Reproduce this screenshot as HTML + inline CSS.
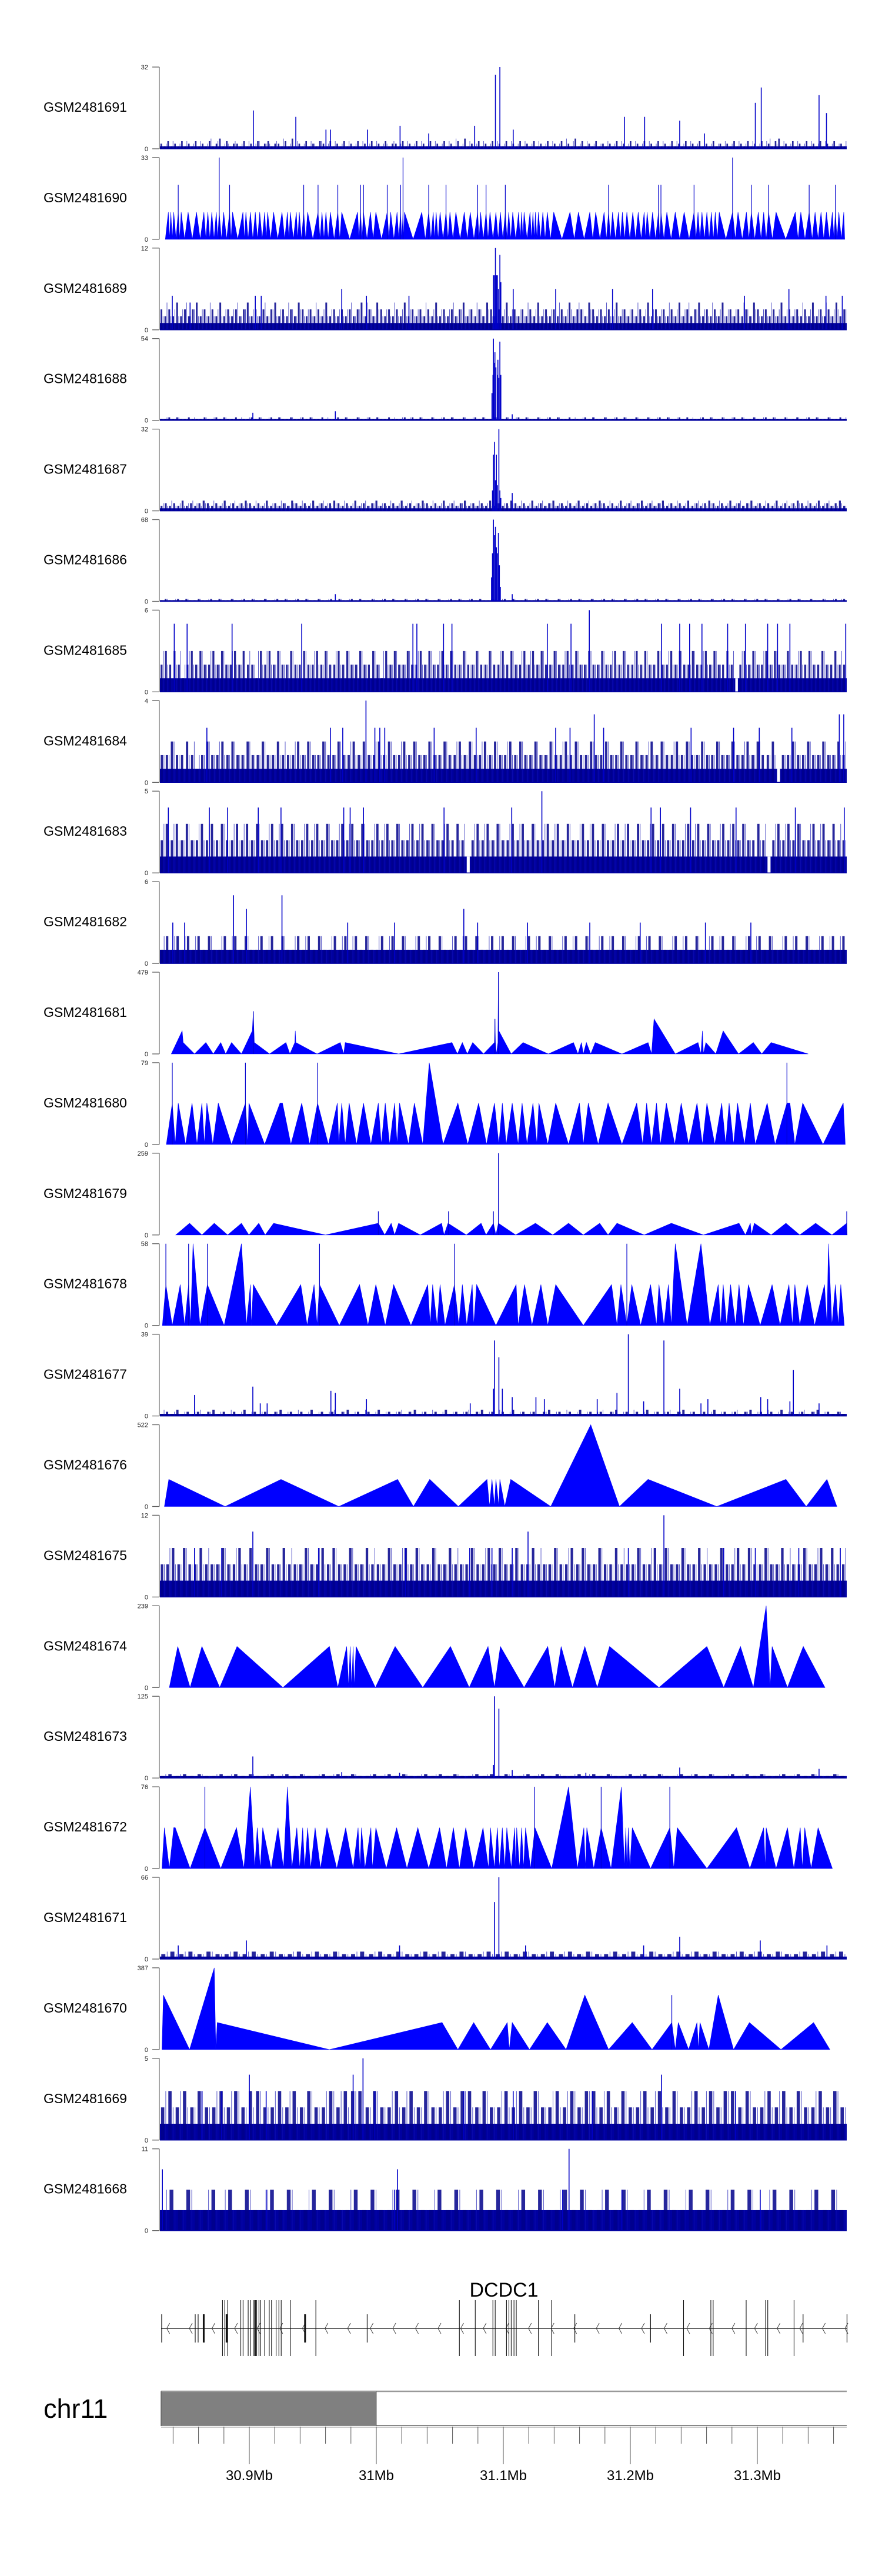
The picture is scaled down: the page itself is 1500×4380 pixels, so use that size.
<!DOCTYPE html>
<html><head><meta charset="utf-8"><title>GSM tracks chr11</title>
<style>
html,body{margin:0;padding:0;background:#fff;}
svg{display:block;font-family:"Liberation Sans",Arial,sans-serif;}
</style></head>
<body>
<svg id="fig" xmlns="http://www.w3.org/2000/svg" width="1500" height="4380" viewBox="0 0 1500 4380">
<rect x="0" y="0" width="1500" height="4380" fill="#fff"/>
<g id="tracks"></g>
<g id="gene"></g>
<g id="ideo"></g>
</svg>
<script>
// ---------- data ----------
const sampleNames = ["GSM2481691","GSM2481690","GSM2481689","GSM2481688","GSM2481687","GSM2481686","GSM2481685","GSM2481684","GSM2481683","GSM2481682","GSM2481681","GSM2481680","GSM2481679","GSM2481678","GSM2481677","GSM2481676","GSM2481675","GSM2481674","GSM2481673","GSM2481672","GSM2481671","GSM2481670","GSM2481669","GSM2481668"];
const sampleMax = [32,33,12,54,32,68,6,4,5,6,479,79,259,58,39,522,12,239,125,76,66,387,5,11];
const trackKind = ["n","p","n","n","n","n","n","n","n","n","t","t","t","t","n","t","n","t","n","t","n","t","n","n"];

// noisy tracks: step (value per digit unit), solid band level (units), noise digits, spikes
const noiseStep = {GSM2481691:1,GSM2481689:1,GSM2481688:1,GSM2481687:1,GSM2481686:1,GSM2481685:1,GSM2481684:0.667,GSM2481683:1,GSM2481682:1,GSM2481677:1,GSM2481675:2.4,GSM2481673:3,GSM2481671:2,GSM2481669:1,GSM2481668:2.75};
const noiseSolid = {GSM2481691:1,GSM2481689:1,GSM2481688:1,GSM2481687:1,GSM2481686:1,GSM2481685:1,GSM2481684:1,GSM2481683:1,GSM2481682:1,GSM2481677:1,GSM2481675:1,GSM2481673:1,GSM2481671:1,GSM2481669:1,GSM2481668:1};
const noiseDigits = {
GSM2481691:"2131213121312131241312213121312312213141213121321312131213121312131221312131213121312131412131213121312131213121312131214131213121213121312131213121312131213121312121312131213121341213121312131213121",
GSM2481689:"3232423234232324232323423232342323243232324232323234232432323242323232423232342323243232423232324232323242332432323242323232423232324232342323242323232432323242323232423232423",
GSM2481688:"1121211211121121211211121211212112112121121112121121121211211121212112112121121121211211211212112112121121112121121121211211211212112121112121121121211211212112112112121121121",
GSM2481687:"2323242323432324232343232423232432324232343232423234232324232343232423234232324232343232423234232324232343232423234232342323242323432324232342323242323432324232342",
GSM2481686:"1211212112112121121121211211212112121121121211212112112121121121211211212112121121121211211212112112121121121211211212112121121121211211212112112121121121211211211212",
GSM2481685:"232321232322323223232213232322322322323223232232232132322322323223232232232232232322323232232232322322322323223232232232322322323223202323223232232232322322322",
GSM2481684:"2232232123223232232232232223232232232232322323223232232232232322323223232232232232322322322322322323223232232232232232322302232232232232",
GSM2481683:"23232322323232232323223232322323232232323223232322323232232320232323223232322323232232323223232322323232232323223232322320232323223232322",
GSM2481682:"12121212121121212112121211212121121212121121212112121211212121121212112121211212121121212112121211212121121212112121211212121121212",
GSM2481677:"1213121212312121312121231212131212123121213121212312121312121231212131212123121213121212312121312121231212131212123121213121212312121",
GSM2481675:"2232322322232232322322322232232322322322232232322322322232232322322322232232322322322232232322322322232232322322322232232322",
GSM2481673:"1212121121212112121211212121121212112121211212121121212112121211212121121212112121211212121121",
GSM2481671:"2323232232323223232322323232232323223232322323232232323223232322323232232323",
GSM2481669:"2323232232323322323232232333232232323223233232232323223232332323223232322323233232232323223232",
GSM2481668:"1212112121211212112121121211212112121121211212112121121211212112121121211212112121"
};
// spikes: positions (region units 85..1475) and values
const spikePos = {
GSM2481691:[274,360,421,430,505,571,629,722,764,773,800,1025,1066,1137,1187,1290,1302,1419,1434],
GSM2481689:[110,146,278,290,453,503,589,800,886,1001,1082,1358,1268,1433,1466,760,762,764,766,768,770,773,775],
GSM2481688:[273,440,798,757,759,760,761,763,765,768,769,771,773,775],
GSM2481687:[758,760,762,764,766,768,771,773,775,798],
GSM2481686:[440,798,756,758,760,762,764,766,768,770,772,774],
GSM2481685:[114,140,231,372,597,605,659,676,869,917,954,1100,1137,1157,1182,1234,1270,1315,1335,1360,1473],
GSM2481684:[502,964,1460,180,430,455,520,530,540,640,725,886,915,983,1160,1246,1298,1364,1469],
GSM2481683:[858,102,185,222,284,330,457,470,497,660,797,1079,1098,1159,1251,1371,1470],
GSM2481682:[234,332,260,700,111,135,465,560,728,829,955,1057,1189,1281],
GSM2481677:[155,273,288,302,431,440,503,713,760,762,771,778,798,846,863,970,1010,1033,1064,1105,1137,1180,1194,1301,1315,1367,1360,1419],
GSM2481675:[273,830,1105,155,210,406,582,712,757,798,1033,1226,1290,1378,1462],
GSM2481673:[273,762,771,760,798,453,1137,1419,570,947],
GSM2481671:[260,762,771,1137,1300,570,122,825,1435,1064],
GSM2481669:[266,496,476,170,210,300,520,700,800,960,1100,1250],
GSM2481668:[90,566,913,900,300,560,1020,1300]
};
const spikeVal = {
GSM2481691:[15,12.5,7.5,7.5,7.5,9,6,9,29,32,7.5,12.5,12.5,11,6,18,24,21,14],
GSM2481689:[5,4,5,5,6,5,5,6,6,6,6,6,5,5,5,8,8,12,8,8,6,11,7],
GSM2481688:[5,6,4,18,30,54,38,45,35,30,40,28,52,30,15],
GSM2481687:[8,22,27,12,22,10,32,8,5,7],
GSM2481686:[6,6,20,40,68,55,62,45,40,57,30,12],
GSM2481685:[5,5,5,5,5,5,5,5,5,5,6,5,5,5,5,5,5,5,5,5,5],
GSM2481684:[4,3.33,3.33,2.67,2.67,2.67,2.67,2.67,2.67,2.67,2.67,2.67,2.67,2.67,2.67,2.67,2.67,2.67,3.33],
GSM2481683:[5,4,4,4,4,4,4,4,4,4,4,4,4,4,4,4,4],
GSM2481682:[5,5,4,4,3,3,3,3,3,3,3,3,3,3],
GSM2481677:[10,14,6,6,12,11,8,6,13,36,28,13,9,9,8,8,11,39,7,36,13,6,8,9,8,22,7,6],
GSM2481675:[9.6,9.6,12,7.2,7.2,7.2,7.2,7.2,7.2,7.2,7.2,7.2,7.2,7.2,7.2],
GSM2481673:[33,125,106,20,12,9,16,14,8,8],
GSM2481671:[15,46,66,18,15,11,11,11,11,11],
GSM2481669:[4,5,4,3,3,3,3,3,3,3,4,3],
GSM2481668:[8.25,8.25,11,5.5,5.5,5.5,5.5,5.5]
};

// triangle tracks: polygon vertices (position, value) and spikes
const triPos = {
GSM2481681:[108,130,132,155,178,193,208,218,230,250,272,274,276,307,340,348,358,359,360,403,450,457,460,568,676,687,697,707,718,740,762,763,764,766,769,770,771,796,820,871,922,931,938,942,948,957,966,1020,1073,1080,1085,1128,1174,1180,1183,1185,1190,1210,1225,1256,1286,1303,1322,1397],
GSM2481680:[98,110,116,122,137,150,160,170,175,180,192,203,230,258,263,265,297,328,333,350,372,388,404,426,444,447,453,460,468,483,497,512,527,533,541,550,560,565,570,588,600,617,630,658,688,708,730,746,762,771,778,786,798,810,818,828,840,848,852,870,886,912,934,942,952,972,992,1020,1050,1062,1070,1080,1090,1098,1110,1127,1140,1155,1172,1183,1192,1208,1222,1230,1237,1246,1254,1268,1280,1290,1314,1330,1354,1360,1370,1386,1427,1468,1472],
GSM2481679:[117,145,170,195,222,250,265,285,298,315,420,527,540,553,560,568,612,655,660,668,705,735,745,760,765,770,805,845,880,912,942,975,992,1010,1065,1120,1185,1257,1270,1280,1282,1288,1322,1352,1380,1412,1445,1475,1476],
GSM2481678:[90,97,110,126,135,143,147,152,166,181,215,250,260,268,270,274,321,370,383,397,403,408,448,489,506,522,541,558,593,627,632,637,646,652,662,681,690,697,706,717,720,726,765,806,810,823,838,856,870,886,942,999,1010,1018,1030,1040,1058,1078,1090,1095,1105,1114,1120,1128,1152,1180,1198,1215,1220,1225,1232,1240,1250,1257,1266,1276,1300,1324,1340,1358,1365,1370,1380,1395,1410,1430,1435,1438,1445,1452,1458,1463,1470],
GSM2481676:[94,103,217,330,447,566,598,631,689,747,752,757,762,765,771,773,783,795,876,957,1015,1073,1212,1352,1393,1435,1455],
GSM2481674:[104,121,146,170,206,241,334,428,445,463,467,470,473,476,478,482,521,561,617,673,711,749,762,774,822,870,884,897,920,945,970,995,1095,1192,1226,1260,1286,1312,1320,1324,1355,1387,1431],
GSM2481672:[89,94,104,113,116,146,176,208,240,255,268,277,282,288,293,310,324,335,343,352,362,368,374,378,384,390,399,410,423,443,461,476,486,490,493,500,512,515,522,543,564,585,607,629,651,665,679,691,704,720,739,750,754,762,768,772,778,783,787,796,803,805,807,813,817,821,825,835,844,878,912,930,943,946,949,963,978,998,1019,1025,1028,1030,1033,1036,1041,1078,1117,1125,1132,1192,1252,1279,1307,1310,1312,1332,1355,1368,1381,1385,1390,1403,1417,1446],
GSM2481670:[89,92,145,195,198,201,428,656,688,720,754,788,792,798,833,869,907,945,993,1041,1081,1121,1128,1134,1155,1172,1175,1178,1196,1215,1246,1278,1342,1408,1441]
};
const triVal = {
GSM2481681:[0,135,67,0,67,0,67,0,67,0,135,250,67,0,67,0,67,135,67,0,67,0,67,0,67,0,67,0,67,0,67,205,67,0,67,479,135,0,67,0,67,0,67,0,67,0,67,0,67,0,205,0,67,0,135,0,67,0,135,0,67,0,67,0],
GSM2481680:[0,40,0,40,0,40,0,40,0,40,0,40,0,40,0,40,0,40,40,0,40,0,40,0,40,0,40,0,40,0,40,0,40,0,40,0,40,0,40,0,40,0,79,0,40,0,40,0,40,0,40,0,40,0,40,0,40,0,40,0,40,0,40,0,40,0,40,0,40,0,40,0,40,0,40,0,40,0,40,0,40,0,40,0,40,0,40,0,40,0,40,0,40,40,0,40,0,40,0],
GSM2481679:[0,37,0,37,0,37,0,37,0,37,0,37,0,37,0,37,0,37,0,37,0,37,0,37,0,37,0,37,0,37,0,37,0,37,0,37,0,37,0,37,0,37,0,37,0,37,0,37,0],
GSM2481678:[0,29,0,29,0,29,0,58,0,29,0,58,0,29,0,29,0,29,0,29,0,29,0,29,0,29,0,29,0,29,0,29,0,29,0,29,0,29,0,29,0,29,0,29,0,29,0,29,0,29,0,29,0,29,0,29,0,29,0,29,0,29,0,58,0,58,0,29,0,29,0,29,0,29,0,29,0,29,0,29,0,29,0,29,0,29,0,58,0,29,0,29,0],
GSM2481676:[0,173,0,173,0,173,0,173,0,173,0,173,0,173,0,173,0,173,0,522,0,173,0,173,0,173,0],
GSM2481674:[0,120,0,120,0,120,0,120,0,120,0,120,0,120,0,120,0,120,0,120,0,120,0,120,0,120,0,120,0,120,0,120,0,120,0,120,0,239,0,120,0,120,0],
GSM2481672:[0,38,0,38,38,0,38,0,38,0,76,0,38,0,38,0,38,0,76,0,38,0,38,0,38,0,38,0,38,0,38,0,38,0,38,0,38,0,38,0,38,0,38,0,38,0,38,0,38,0,38,0,38,0,38,0,38,0,38,0,38,0,38,0,38,0,38,0,38,0,76,0,38,0,38,0,38,0,76,0,38,0,38,0,38,0,38,0,38,0,38,0,38,0,38,0,38,0,38,0,38,0,38,0],
GSM2481670:[0,258,0,387,0,128,0,128,0,128,0,128,0,128,0,128,0,258,0,128,0,128,0,128,0,128,0,128,0,258,0,128,0,128,0]
};
const triSpikePos = {GSM2481680:[110,258,404,1354],GSM2481679:[527,669,760,770,1475],GSM2481678:[97,143,181,408,681,1030],GSM2481672:[176,843,978,1117],GSM2481670:[1121],GSM2481681:[274,763,770]};
const triSpikeVal = {GSM2481680:[79,79,79,79],GSM2481679:[75,75,75,259,75],GSM2481678:[58,58,58,58,58,58],GSM2481672:[76,76,76,76],GSM2481670:[258],GSM2481681:[250,205,479]};

// GSM2481690: dense peak track
const peaks690Pos = [102,107,113,122,128,142,159,174,182,190,199,205,214,226,232,253,259,268,278,287,297,303,315,332,343,349,361,367,376,384,405,413,421,430,445,453,485,491,497,511,522,545,552,565,572,577,580,615,629,638,644,652,664,672,684,701,713,728,734,745,753,765,774,784,791,799,811,817,822,834,840,845,851,860,869,882,915,932,955,967,984,993,1001,1013,1021,1030,1042,1053,1065,1071,1082,1094,1099,1111,1128,1146,1166,1174,1182,1192,1201,1209,1217,1244,1255,1272,1282,1296,1307,1317,1332,1371,1382,1399,1411,1423,1434,1446,1452,1459,1469];
const peaks690Level = 11;
const spikes690Pos = [122,226,376,405,445,491,497,545,572,629,664,728,745,784,993,1094,1099,1166,1282,1317,1399,1452,205,577,1244];
const spikes690Val = [22,22,22,22,22,22,22,22,22,22,22,22,22,22,22,22,22,22,22,22,22,22,33,33,33];

// gene model (Mb)
const exonShortMb = [30.8310,30.8574,30.8597,30.8641,30.8821,30.9439,30.9928,31.1563,31.2159,31.3360,31.3706];
const exonShortThick = [0,0,0,1,1,1,0,0,0,0,0];
const exonTallMb = [30.8789,30.8807,30.8830,30.8933,30.8951,30.8991,30.9009,30.9031,30.9040,30.9049,30.9058,30.9076,30.9090,30.9121,30.9157,30.9175,30.9211,30.9233,30.9251,30.9323,30.9524,31.0654,31.0779,31.0918,31.0936,31.1025,31.1044,31.1062,31.1084,31.1102,31.1276,31.1380,31.2419,31.2634,31.2652,31.2912,31.3065,31.3082,31.3289];
const axisLabels = ["30.9Mb","31Mb","31.1Mb","31.2Mb","31.3Mb"];
const axisMajorMb = [30.9,31.0,31.1,31.2,31.3];

// ---------- layout ----------
const NS="http://www.w3.org/2000/svg";
const PX0=272, PX1=1440, POS0=85, POS1=1475;
const TOP0=114, PERIOD=153.9, PH=139, AXX=271;
function xPos(p){return PX0+(p-POS0)*(PX1-PX0)/(POS1-POS0);}
function xMb(m){return 424+(m-30.9)*2160;}
function mk(tag,attrs,parent){const e=document.createElementNS(NS,tag);for(const k in attrs)e.setAttribute(k,attrs[k]);parent.appendChild(e);return e;}

const tracks=document.getElementById('tracks');
sampleNames.forEach((name,i)=>{
  const top=TOP0+PERIOD*i, bot=top+PH, mx=sampleMax[i];
  const yv=v=>bot-Math.min(v,mx)/mx*PH;
  const g=mk('g',{},tracks);
  
  
  const lab=mk('text',{x:74,y:top+76,'font-size':23,fill:'#000'},g);
  lab.textContent=name;
  
  
  const ax=mk('g',{},g);
  
  
  mk('line',{x1:AXX,y1:top,x2:AXX,y2:bot,stroke:'#909090','stroke-width':1.6},ax);
  mk('line',{x1:259,y1:top,x2:AXX,y2:top,stroke:'#606060','stroke-width':1.3},ax);
  mk('line',{x1:259,y1:bot,x2:AXX,y2:bot,stroke:'#606060','stroke-width':1.3},ax);
  const t1=mk('text',{x:252,y:top+4,'font-size':11,'text-anchor':'end',fill:'#222'},ax);t1.textContent=mx;
  
  
  const t0=mk('text',{x:252,y:bot+4,'font-size':11,'text-anchor':'end',fill:'#222'},ax);t0.textContent='0';
  
  
  const dg=mk('g',{},g);
  
  
  const kind=trackKind[i];
  if(kind==='n'){
    const step=noiseStep[name], solid=noiseSolid[name], dig=noiseDigits[name];
    mk('rect',{x:PX0,y:yv(solid*step),width:PX1-PX0,height:bot-yv(solid*step),fill:'#0000A0'},dg);
    const n=dig.length, w=(PX1-PX0)/n;
    for(let k=0;k<n;k++){
      const v=+dig[k]*step, x=PX0+k*w;
      if(+dig[k]<solid){mk('rect',{x:x+w*0.2,y:yv(solid*step),width:w*0.6,height:yv(v)-yv(solid*step),fill:'#fff'},dg);}
      else{
        const b=mk('rect',{x:x+w*0.15,y:yv(v),width:w*0.45,height:bot-yv(v),fill:'#00008B','fill-opacity':0.85},dg);
        
        
        const v2=Math.max(solid,+dig[(k+3)%n])*step;
        const b2=mk('line',{x1:x+w*0.8,y1:bot,x2:x+w*0.8,y2:yv(v2),stroke:'#1010b0','stroke-width':1,'stroke-opacity':0.7},dg);
        
        
      }
    }
    spikePos[name].forEach((p,k)=>{
      const s=mk('line',{x1:xPos(p),y1:bot,x2:xPos(p),y2:yv(spikeVal[name][k]),stroke:'#0000C8','stroke-width':1.6},dg);
      
      
    });
    mk('line',{x1:PX0,y1:bot,x2:PX1,y2:bot,stroke:'#0000A0','stroke-width':1.5},dg);
  } else if(kind==='t'){
    const P=triPos[name], V=triVal[name];
    let d='M'+xPos(P[0]).toFixed(1)+','+bot;
    P.forEach((p,k)=>{d+=' L'+xPos(p).toFixed(1)+','+yv(V[k]).toFixed(1);});
    d+=' L'+xPos(P[P.length-1]).toFixed(1)+','+bot+' Z';
    const poly=mk('path',{d:d,fill:'#0000FF',stroke:'#0000FF','stroke-width':0.6},dg);
    
    
    (triSpikePos[name]||[]).forEach((p,k)=>{
      const s=mk('line',{x1:xPos(p),y1:bot,x2:xPos(p),y2:yv(triSpikeVal[name][k]),stroke:'#0000CC','stroke-width':1.2},dg);
      
      
    });
  } else {
    const P=peaks690Pos;
    let d='M'+xPos(P[0]-6).toFixed(1)+','+bot;
    P.forEach((p,k)=>{
      d+=' L'+xPos(p).toFixed(1)+','+yv(peaks690Level).toFixed(1);
      if(k<P.length-1){d+=' L'+xPos((p+P[k+1])/2).toFixed(1)+','+bot;}
    });
    d+=' L'+xPos(P[P.length-1]+2).toFixed(1)+','+bot+' Z';
    const poly=mk('path',{d:d,fill:'#0000FF',stroke:'#0000FF','stroke-width':0.6},dg);
    
    
    spikes690Pos.forEach((p,k)=>{
      const s=mk('line',{x1:xPos(p),y1:bot,x2:xPos(p),y2:yv(spikes690Val[k]),stroke:'#0000CC','stroke-width':1.2},dg);
      
      
    });
  }
});

// ---------- gene track ----------
const gene=document.getElementById('gene');
const GY=3959;
const gl=mk('text',{x:857,y:3905,'font-size':34,'text-anchor':'middle',fill:'#000'},gene);
gl.textContent='DCDC1';


mk('line',{x1:274,y1:GY,x2:1440,y2:GY,stroke:'#333','stroke-width':1.5},gene);
for(let m=30.835;m<31.37;m+=0.0178){
  const x=xMb(m);
  mk('polyline',{points:(x+5)+','+(GY-9)+' '+x+','+GY+' '+(x+5)+','+(GY+9),fill:'none',stroke:'#444','stroke-width':1},gene);
}
exonShortMb.forEach((m,k)=>{
  const e=mk('line',{x1:xMb(m),y1:3935,x2:xMb(m),y2:3983,stroke:'#111','stroke-width':exonShortThick[k]?3:1.2},gene);
  
  
});
exonTallMb.forEach(m=>{
  const e=mk('line',{x1:xMb(m),y1:3911,x2:xMb(m),y2:4006,stroke:'#111','stroke-width':1.1},gene);
  
  
});

// ---------- ideogram / axis ----------
const ideo=document.getElementById('ideo');
const cl=mk('text',{x:74,y:4111,'font-size':45,fill:'#000'},ideo);
cl.textContent='chr11';


mk('rect',{x:274,y:4067,width:xMb(31.0)-274,height:57,fill:'#808080'},ideo);
mk('line',{x1:274,y1:4066,x2:1440,y2:4066,stroke:'#999','stroke-width':2.5},ideo);
mk('line',{x1:274,y1:4124,x2:1440,y2:4124,stroke:'#888','stroke-width':2},ideo);
mk('line',{x1:274,y1:4127,x2:1440,y2:4127,stroke:'#ccc','stroke-width':2},ideo);
mk('line',{x1:274,y1:4066,x2:274,y2:4125,stroke:'#666','stroke-width':1.5},ideo);
mk('line',{x1:xMb(31.0),y1:4066,x2:xMb(31.0),y2:4125,stroke:'#666','stroke-width':1},ideo);
for(let k=0;k<27;k++){
  const m=30.84+k*0.02, x=xMb(m);
  const major=Math.abs((m*10)-Math.round(m*10))<1e-6;
  if(x>1440)break;
  const t=mk('line',{x1:x,y1:4126,x2:x,y2:major?4190:4155,stroke:'#555','stroke-width':1},ideo);
  
  
}
axisMajorMb.forEach((m,k)=>{
  const t=mk('text',{x:xMb(m),y:4217,'font-size':24,'text-anchor':'middle',fill:'#000'},ideo);
  t.textContent=axisLabels[k];
  
  
});
</script>
</body></html>
